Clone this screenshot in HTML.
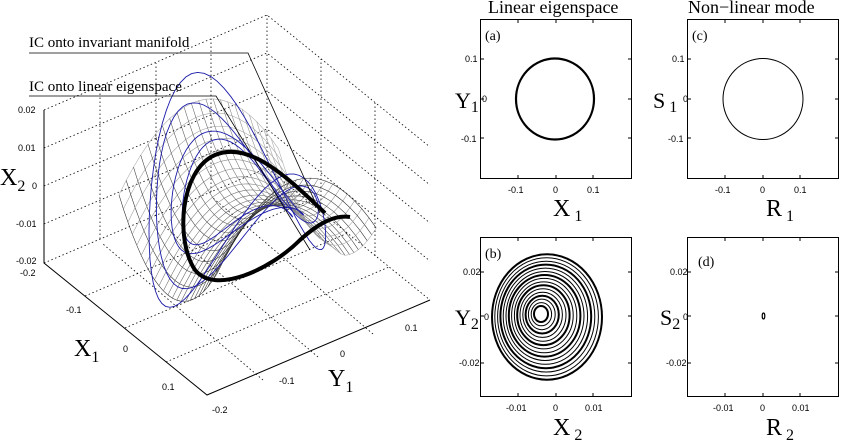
<!DOCTYPE html>
<html><head><meta charset="utf-8"><style>
html,body{margin:0;padding:0;background:#fff;}
svg{display:block;font-family:"Liberation Serif",serif;}
.t{font-family:"Liberation Sans",sans-serif;font-size:9px;}
</style></head><body>
<svg id="s" width="843" height="442" viewBox="0 0 843 442" xmlns="http://www.w3.org/2000/svg">
<g id="box" stroke="#000" stroke-width="0.8" stroke-dasharray="1.5,2.5" fill="none">
<path d="M44,110 L267,15 L430,147 M44,263 L267,168 L430,300 M267,168 L267,15"/>
<path d="M44,148 L267,53 L430,185 M44,186 L267,91 L430,223 M44,224 L267,129 L430,261"/>
<path d="M100,239 L100,86 M156,216 L156,63 M211,192 L211,39"/>
<path d="M321,212 L321,59 M375,256 L375,103"/>
<path d="M85,296 L308,201 M125,328 L348,233 M166,362 L389,267"/>
<path d="M263,380 L103,244 M318,357 L158,221 M373,334 L213,198"/>
</g>
<g stroke="#000" stroke-width="1" fill="none">
<path d="M44,110 L44,263 L207,395 L430,300"/>
</g>
<g id="mesh" fill="none" stroke-width="0.55"></g>
<g id="blue" fill="none" stroke="#1a1aa8" stroke-width="0.9"></g>
<path d="M325,213 C290,180 250,140 215,155 C180,170 175,240 195,270 C215,295 270,270 300,240 C320,222 335,215 350,217" fill="none" stroke="#000" stroke-width="4"/>
<g class="t" fill="#000">
<text x="18" y="113">0.02</text><text x="18" y="151">0.01</text><text x="32" y="189">0</text><text x="16" y="227">-0.01</text><text x="16" y="264">-0.02</text>
<text x="20" y="276">-0.2</text><text x="66" y="313">-0.1</text><text x="123" y="352">0</text><text x="162" y="390">0.1</text>
<text x="212" y="413">-0.2</text><text x="279" y="384">-0.1</text><text x="340" y="357">0</text><text x="405" y="331">0.1</text>
</g>
<text x="0" y="185" font-size="24">X<tspan font-size="16" dy="6">2</tspan></text>
<text x="74" y="356" font-size="24">X<tspan font-size="16" dy="6">1</tspan></text>
<text x="328" y="386" font-size="24">Y<tspan font-size="16" dy="6">1</tspan></text>
<text x="29" y="47" font-size="15">IC onto invariant manifold</text>
<text x="29" y="91" font-size="15">IC onto linear eigenspace</text>
<path d="M29,53 L248,53 L320,213 M29,96 L216,96 L310,250" stroke="#000" stroke-width="0.8" fill="none"/>

<text x="488" y="13" font-size="18">Linear eigenspace</text>
<text x="688" y="13" font-size="18">Non−linear mode</text>
<g fill="none" stroke="#000" stroke-width="1">
<rect x="480.5" y="19.5" width="151" height="159"/>
<rect x="687.5" y="19.5" width="151" height="159"/>
<rect x="480.5" y="237.5" width="151" height="159"/>
<rect x="687.5" y="237.5" width="151" height="159"/>
<path d="M518,178v-3M556,178v-3M593,178v-3M518,20v3M556,20v3M593,20v3M481,59h3M481,99h3M481,138h3M631,59h-3M631,99h-3M631,138h-3"/>
<path d="M725,178v-3M763,178v-3M800,178v-3M725,20v3M763,20v3M800,20v3M688,59h3M688,99h3M688,138h3M838,59h-3M838,99h-3M838,138h-3"/>
<path d="M518,396v-3M556,396v-3M593,396v-3M518,238v3M556,238v3M593,238v3M481,272h3M481,316h3M481,363h3M631,272h-3M631,316h-3M631,363h-3"/>
<path d="M725,396v-3M763,396v-3M800,396v-3M725,238v3M763,238v3M800,238v3M688,272h3M688,316h3M688,363h3M838,272h-3M838,316h-3M838,363h-3"/>
</g>
<ellipse cx="555" cy="99" rx="39" ry="40.5" fill="none" stroke="#000" stroke-width="2.2"/>
<ellipse cx="763" cy="99" rx="40" ry="40.5" fill="none" stroke="#000" stroke-width="1"/>
<ellipse cx="763.5" cy="316" rx="1.3" ry="3" fill="none" stroke="#000" stroke-width="1.2"/>
<g id="spir" fill="none" stroke="#000" stroke-width="1"></g>
<g class="t" fill="#000">
<text x="508" y="193">-0.1</text><text x="553" y="193">0</text><text x="587" y="193">0.1</text>
<text x="465" y="62">0.1</text><text x="461" y="142">-0.1</text>
<text x="715" y="193">-0.1</text><text x="760" y="193">0</text><text x="794" y="193">0.1</text>
<text x="672" y="62">0.1</text><text x="668" y="142">-0.1</text>
<text x="506" y="411">-0.01</text><text x="553" y="411">0</text><text x="585" y="411">0.01</text>
<text x="463" y="275">0.02</text><text x="459" y="366">-0.02</text>
<text x="713" y="411">-0.01</text><text x="760" y="411">0</text><text x="792" y="411">0.01</text>
<text x="670" y="275">0.02</text><text x="666" y="366">-0.02</text>
</g>
<g class="t" fill="#000" font-size="9"><text x="482" y="102">0</text><text x="683" y="102">0</text><text x="484" y="320">0</text><text x="683" y="320">0</text></g>
<text x="485" y="40" font-size="14">(a)</text><text x="692" y="40" font-size="14">(c)</text>
<text x="485" y="258" font-size="14">(b)</text><text x="698" y="266" font-size="14">(d)</text>
<text x="455" y="108" font-size="22">Y<tspan font-size="16" dy="4">1</tspan></text>
<text x="653" y="108" font-size="22">S<tspan font-size="16" dy="4" dx="4">1</tspan></text>
<text x="455" y="325" font-size="22">Y<tspan font-size="16" dy="4">2</tspan></text>
<text x="660" y="325" font-size="22">S<tspan font-size="16" dy="4">2</tspan></text>
<text x="553" y="216" font-size="24">X<tspan font-size="16" dy="5" dx="4">1</tspan></text>
<text x="766" y="216" font-size="24">R<tspan font-size="16" dy="5" dx="4">1</tspan></text>
<text x="553" y="435" font-size="24">X<tspan font-size="16" dy="5" dx="4">2</tspan></text>
<text x="766" y="435" font-size="24">R<tspan font-size="16" dy="5" dx="4">2</tspan></text>
</svg>
<script>
var NS="http://www.w3.org/2000/svg";
function P(x1,y1,x2){var a=(x1+0.2)/0.4,t=0.6+y1*2.75,h=(x2+0.02)/0.04;
return [44+a*163+(t-0.08)*223, 263+a*132-(t-0.08)*95-h*153];}
function f(x,y){return Math.max(-0.02,Math.min(0.02,1.1*(x*x-y*y)));}
var m=document.getElementById("mesh"),N=22;
function line(par,pts,col){var p=document.createElementNS(NS,"polyline");p.setAttribute("points",pts.map(function(q){return q[0].toFixed(1)+","+q[1].toFixed(1)}).join(" "));p.setAttribute("stroke",col);par.appendChild(p);}
for(var i=0;i<=N;i++){var a=[],b=[];for(var j=0;j<=N;j++){
var x=-0.12+0.24*i/N,y=-0.12+0.26*j/N;a.push(P(x,y,f(x,y)));
var x2=-0.12+0.24*j/N,y2=-0.12+0.26*i/N;b.push(P(x2,y2,f(x2,y2)));}
var g=Math.round(30+140*(1-i/N));line(m,a,"rgb("+g+","+g+","+g+")");var g2=Math.round(40+130*(i/N));line(m,b,"rgb("+g2+","+g2+","+g2+")");}
var bl=document.getElementById("blue");
[[0.11,0.003,0],[0.09,-0.002,1],[0.12,0.004,2],[0.075,0.002,3]].forEach(function(c){var pts=[];for(var k=0;k<=80;k++){var th=k/80*2*Math.PI+c[2];var x=c[0]*Math.cos(th)-0.01,y=c[0]*Math.sin(th);pts.push(P(x,y,f(x,y)+c[1]*Math.sin(2*th+c[2])));}
line(bl,pts,"#1a1aa8");});
var sp=document.getElementById("spir");
for(var k=0;k<16;k++){var rx=55-k*3.2,ry=rx*1.14;var el=document.createElementNS(NS,"ellipse");el.setAttribute("cx",(547-k*0.4).toFixed(1));el.setAttribute("cy",(317-k*0.2).toFixed(1));el.setAttribute("rx",rx.toFixed(1));el.setAttribute("ry",ry.toFixed(1));if(k%3==0)el.setAttribute("stroke-width","2");sp.appendChild(el);}
</script>
</body></html>
